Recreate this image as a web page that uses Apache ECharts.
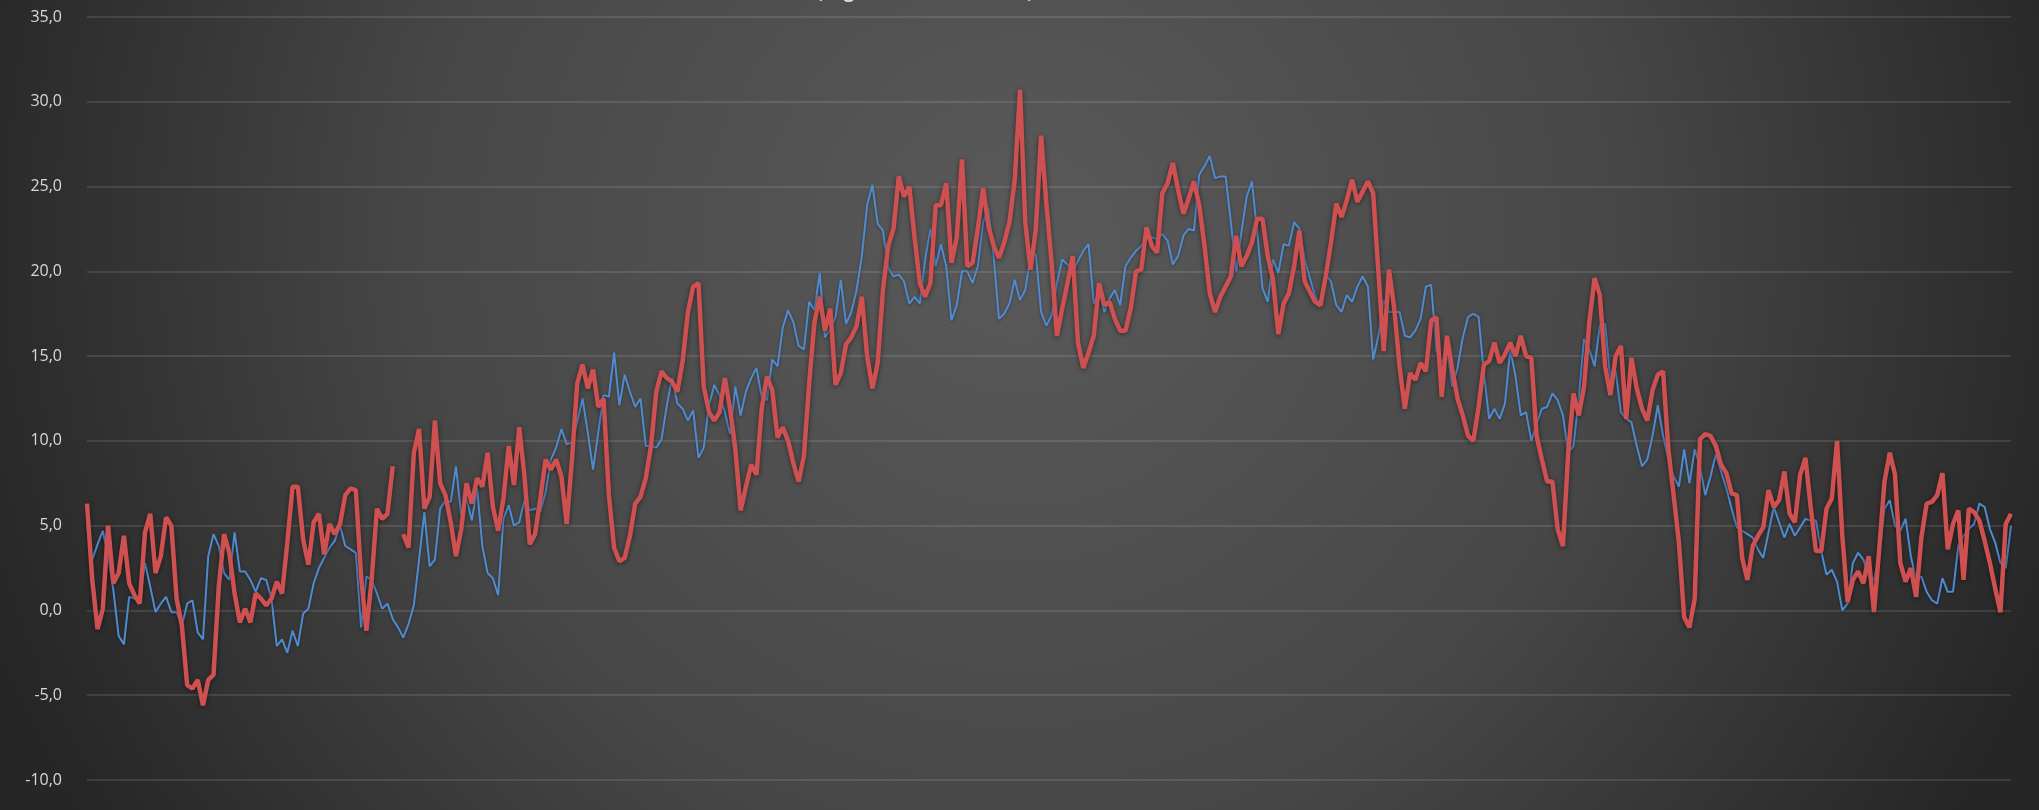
<!DOCTYPE html>
<html>
<head>
<meta charset="utf-8">
<script src="https://cdn.jsdelivr.net/npm/echarts@6/dist/echarts.min.js"></script>
<style>
  html, body { margin: 0; padding: 0; background: #2b2b2b; }
  #chart { width: 2039px; height: 810px; }
</style>
</head>
<body>
<div id="chart"></div>
<script>
// daily values, leap year (366 days)
const blueValues = [
  5.0, 3.0, 3.9, 4.7, 3.2, 1.2, -1.5, -2.0, 0.8, 0.7, 0.6, 2.8, 1.4, -0.1, 0.4, 0.8, -0.1, -0.1, -0.9, 0.4,
  0.6, -1.3, -1.7, 3.2, 4.5, 3.8, 2.2, 1.8, 4.6, 2.3, 2.3, 1.8, 1.1, 1.9, 1.8, 0.7, -2.1, -1.7, -2.5, -1.2,
  -2.1, -0.2, 0.1, 1.6, 2.5, 3.1, 3.7, 4.1, 5.0, 3.8, 3.6, 3.4, -1.0, 2.0, 1.8, 1.0, 0.1, 0.4, -0.5, -1.0,
  -1.6, -0.8, 0.3, 3.0, 5.8, 2.6, 3.0, 6.0, 6.5, 6.4, 8.5, 5.6, 6.6, 5.3, 7.2, 3.8, 2.2, 1.9, 0.9, 5.4,
  6.2, 5.0, 5.2, 6.5, 5.9, 6.0, 5.8, 7.0, 8.9, 9.6, 10.7, 9.8, 9.9, 11.1, 12.5, 10.5, 8.3, 10.5, 12.7, 12.6,
  15.2, 12.1, 13.9, 12.9, 12.0, 12.5, 9.7, 9.7, 9.6, 10.1, 12.1, 13.7, 12.2, 11.9, 11.2, 11.8, 9.0, 9.6, 12.1, 13.3,
  12.7, 11.7, 10.4, 13.2, 11.5, 12.9, 13.7, 14.3, 12.6, 12.4, 14.8, 14.4, 16.7, 17.7, 17.0, 15.6, 15.4, 18.2, 17.7, 19.9,
  16.1, 16.6, 17.3, 19.5, 16.9, 17.6, 18.9, 20.9, 23.9, 25.1, 22.8, 22.4, 20.2, 19.7, 19.8, 19.4, 18.1, 18.5, 18.1, 20.7,
  22.5, 20.3, 21.6, 20.3, 17.1, 18.0, 20.0, 20.0, 19.3, 20.3, 22.9, 23.7, 20.9, 17.2, 17.5, 18.1, 19.5, 18.3, 18.9, 20.9,
  21.0, 17.6, 16.8, 17.4, 19.3, 20.7, 20.4, 20.0, 20.6, 21.2, 21.6, 18.1, 18.8, 17.6, 18.4, 18.9, 18.0, 20.3, 20.8, 21.2,
  21.5, 22.1, 22.0, 21.9, 22.2, 21.8, 20.4, 20.9, 22.1, 22.5, 22.4, 25.7, 26.2, 26.8, 25.5, 25.6, 25.6, 22.9, 20.0, 22.3,
  24.4, 25.3, 22.3, 19.0, 18.2, 20.7, 19.9, 21.6, 21.5, 22.9, 22.5, 20.7, 19.6, 18.5, 18.1, 19.8, 19.4, 18.0, 17.6, 18.6,
  18.2, 19.1, 19.7, 19.1, 14.8, 16.2, 18.3, 17.6, 17.6, 17.6, 16.2, 16.1, 16.5, 17.2, 19.1, 19.2, 15.3, 14.6, 15.4, 13.2,
  14.3, 16.1, 17.3, 17.5, 17.3, 14.0, 11.3, 11.9, 11.3, 12.2, 15.4, 13.8, 11.5, 11.7, 10.0, 11.0, 11.9, 12.0, 12.8, 12.4,
  11.5, 9.3, 9.7, 12.5, 16.0, 15.4, 14.4, 16.8, 16.9, 13.6, 14.1, 11.7, 11.3, 11.1, 9.7, 8.5, 8.9, 10.3, 12.1, 10.3,
  8.9, 7.9, 7.3, 9.5, 7.5, 9.5, 8.5, 6.8, 7.9, 9.2, 8.2, 7.2, 6.0, 4.9, 4.7, 4.5, 4.3, 3.6, 3.1, 4.6,
  6.1, 5.2, 4.3, 5.1, 4.4, 4.9, 5.4, 5.3, 5.3, 3.5, 2.1, 2.4, 1.7, 0.0, 0.4, 2.8, 3.4, 3.0, 2.0, 1.8,
  3.2, 6.0, 6.5, 5.0, 4.7, 5.4, 3.2, 1.8, 2.0, 1.1, 0.6, 0.4, 1.9, 1.1, 1.1, 3.8, 4.4, 4.8, 5.1, 6.3,
  6.1, 4.8, 4.0, 2.8, 2.5, 5.0
];

const redValues = [
  6.3, 1.8, -1.1, 0.1, 5.0, 1.6, 2.2, 4.4, 1.6, 0.9, 0.4, 4.6, 5.7, 2.2, 3.2, 5.5, 5.0, 0.7, -0.9, -4.4,
  -4.6, -4.1, -5.6, -4.1, -3.8, 1.4, 4.5, 3.4, 1.0, -0.7, 0.1, -0.7, 1.0, 0.7, 0.3, 0.7, 1.7, 1.0, 4.0, 7.3,
  7.3, 4.2, 2.7, 5.2, 5.7, 3.3, 5.1, 4.5, 5.1, 6.8, 7.2, 7.1, 2.0, -1.2, 1.8, 6.0, 5.4, 5.7, 8.5, null,
  4.5, 3.7, 9.3, 10.7, 6.0, 6.7, 11.2, 7.5, 6.8, 5.2, 3.2, 4.8, 7.5, 6.3, 7.8, 7.3, 9.3, 6.1, 4.7, 6.6,
  9.7, 7.4, 10.8, 7.9, 3.9, 4.5, 6.6, 8.9, 8.3, 8.9, 7.9, 5.1, 8.9, 13.4, 14.5, 13.1, 14.2, 12.0, 12.5, 6.8,
  3.7, 2.9, 3.1, 4.4, 6.3, 6.7, 7.8, 9.7, 12.9, 14.1, 13.7, 13.5, 12.9, 14.7, 17.6, 19.1, 19.3, 13.2, 11.7, 11.2,
  11.7, 13.7, 11.9, 9.5, 5.9, 7.3, 8.6, 8.0, 11.9, 13.8, 13.0, 10.2, 10.8, 10.0, 8.7, 7.6, 9.1, 13.4, 17.0, 18.5,
  16.5, 17.8, 13.3, 14.0, 15.7, 16.1, 16.8, 18.5, 15.0, 13.1, 14.6, 18.9, 21.5, 22.5, 25.6, 24.4, 25.0, 22.0, 19.3, 18.5,
  19.3, 23.9, 23.9, 25.2, 20.5, 22.0, 26.6, 20.3, 20.5, 22.5, 24.9, 22.7, 21.5, 20.8, 21.7, 22.9, 25.4, 30.7, 22.9, 20.1,
  22.5, 28.0, 24.0, 20.5, 16.2, 17.8, 19.3, 20.9, 15.8, 14.3, 15.2, 16.2, 19.3, 18.0, 18.2, 17.2, 16.5, 16.5, 17.8, 20.0,
  20.1, 22.6, 21.5, 21.1, 24.6, 25.2, 26.4, 24.8, 23.4, 24.3, 25.3, 23.9, 21.5, 18.7, 17.6, 18.5, 19.1, 19.7, 22.1, 20.3,
  20.9, 21.7, 23.1, 23.1, 20.9, 19.5, 16.3, 18.1, 18.7, 20.3, 22.4, 19.4, 18.8, 18.2, 18.0, 19.7, 21.7, 24.0, 23.2, 24.2,
  25.4, 24.1, 24.7, 25.3, 24.6, 19.9, 15.3, 20.1, 17.8, 14.4, 11.9, 14.0, 13.6, 14.6, 14.1, 17.1, 17.3, 12.6, 16.2, 14.2,
  12.5, 11.5, 10.3, 10.0, 12.0, 14.5, 14.7, 15.8, 14.6, 15.1, 15.8, 15.0, 16.2, 15.0, 14.9, 10.3, 8.9, 7.6, 7.6, 4.8,
  3.8, 9.3, 12.8, 11.5, 13.2, 17.0, 19.6, 18.6, 14.4, 12.7, 15.0, 15.6, 11.3, 14.9, 13.1, 11.9, 11.2, 13.0, 13.9, 14.1,
  9.5, 6.8, 4.0, -0.4, -1.0, 0.7, 10.1, 10.4, 10.3, 9.7, 8.6, 8.1, 6.9, 6.8, 3.1, 1.8, 3.8, 4.4, 4.9, 7.1,
  6.1, 6.5, 8.2, 5.7, 5.2, 8.0, 9.0, 6.1, 3.5, 3.5, 6.0, 6.6, 10.0, 4.4, 0.5, 1.8, 2.3, 1.6, 3.2, -0.1,
  3.6, 7.6, 9.3, 8.0, 2.8, 1.7, 2.5, 0.8, 4.3, 6.3, 6.4, 6.8, 8.1, 3.6, 5.1, 5.9, 1.8, 6.0, 5.8, 5.3,
  4.1, 2.8, 1.3, -0.1, 5.1, 5.7
];

const yTicks = { min: -10, max: 35, step: 5 };
const titleText = '(Tagesmittelwerte 2020)';

// one category per day of the year
const days = [];
for (let i = 0; i < blueValues.length; i++) {
  const d = new Date(2020, 0, 1 + i);
  days.push(d.getDate() + '.' + (d.getMonth() + 1) + '.');
}

const chart = echarts.init(document.getElementById('chart'));

chart.setOption({
  animation: false,
  backgroundColor: {
    type: 'radial', x: 0.5, y: 0.3, r: 1.35,
    colorStops: [
      {offset: 0, color: '#5a5a5a'},
      {offset: 0.55, color: '#474747'},
      {offset: 1, color: '#262626'}
    ]
  },
  graphic: [{
    type: 'text',
    x: 925,
    y: -16,
    style: {
      text: titleText,
      fill: '#e6e6e6',
      font: 'bold 18px "Open Sans"',
      textAlign: 'center'
    }
  }],
  grid: {left: 87, right: 28, top: 17, bottom: 30},
  xAxis: {
    type: 'category',
    data: days,
    boundaryGap: false,
    axisLine: {show: false},
    axisTick: {show: false},
    axisLabel: {show: false},
    splitLine: {show: false}
  },
  yAxis: {
    type: 'value',
    min: yTicks.min,
    max: yTicks.max,
    interval: yTicks.step,
    axisLine: {show: false},
    axisTick: {show: false},
    axisLabel: {
      color: '#d9d9d9',
      fontSize: 16,
      fontFamily: 'Open Sans',
      margin: 25,
      formatter: (v) => v.toFixed(1).replace('.', ',')
    },
    splitLine: {lineStyle: {color: 'rgba(255,255,255,0.14)', width: 1.5}}
  },
  series: [
    {
      name: 'Reihe 1',
      type: 'line',
      data: blueValues,
      symbol: 'none',
      lineStyle: {
        color: '#4f8bd0',
        width: 2,
        shadowColor: 'rgba(0,0,0,0.35)',
        shadowBlur: 3,
        shadowOffsetY: 1
      },
      z: 2
    },
    {
      name: 'Reihe 2',
      type: 'line',
      data: redValues,
      symbol: 'none',
      connectNulls: false,
      lineStyle: {
        color: '#cf5050',
        width: 4.5,
        shadowColor: 'rgba(0,0,0,0.5)',
        shadowBlur: 5,
        shadowOffsetY: 1
      },
      z: 3
    }
  ]
})
</script>
</body>
</html>
